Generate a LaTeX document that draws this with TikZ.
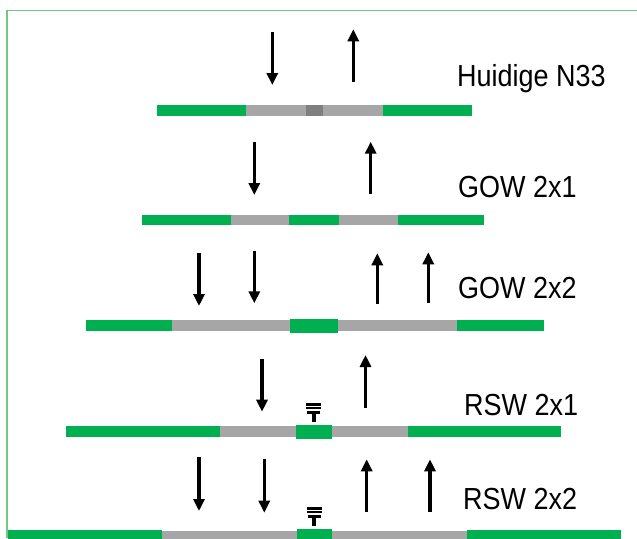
\documentclass[tikz,border=0pt]{standalone}
\usepackage{fontspec}
\setmainfont{Liberation Sans}
\usetikzlibrary{arrows.meta}

\definecolor{roadgreen}{HTML}{00B050}
\definecolor{roadgrey}{HTML}{A6A6A6}
\definecolor{roaddark}{HTML}{7F7F7F}
\definecolor{framegreen}{RGB}{112,200,132}

\tikzset{
  flow/.style={line width=3.2pt, -{Triangle[width=11pt,length=12pt]}, black},
  lanetext/.style={anchor=base west, inner sep=0pt, xscale=0.93, yscale=1.05, transform shape,
                font=\fontsize{29}{34}\selectfont},
  % vehicle barrier on the median: two rails over a post
  barrier/.pic={
    \fill[black] (-7.2,-22.6) rectangle (7.2,-20.3);
    \fill[black] (-7.2,-19.1) rectangle (7.2,-16.8);
    \fill[black] (-6.2,-14.6) rectangle (6.2,-11.6);
    \fill[black] (-2,-11.6) rectangle (2,-4.4);
  }
}

% one road segment: colour, x from, x to, y top, y bottom
\newcommand{\seg}[5]{\fill[#1] (#2,#4) rectangle (#3,#5);}

\begin{document}
\begin{tikzpicture}[x=1pt,y=-1pt]
\useasboundingbox (0,0) rectangle (637,538);

% frame
\draw[framegreen, line width=1.8pt] (7,538) -- (7,10.5) -- (637,10.5);

% Huidige N33
\seg{roadgreen}{157}{246}{105}{115.5}
\seg{roadgrey}{246}{306}{105}{115.5}
\seg{roaddark}{306}{322.7}{105}{115.5}
\seg{roadgrey}{322.7}{383}{105}{115.5}
\seg{roadgreen}{383}{471.5}{105}{115.5}
\coordinate (a1s) at (272.3,31.7);  \coordinate (a1e) at (272.3,85);
\coordinate (b1s) at (353.3,81.7);  \coordinate (b1e) at (353.3,29.3);
\draw[flow] (a1s) -- (a1e);
\draw[flow] (b1s) -- (b1e);
\node[lanetext] (l1) at (457,86) {Huidige N33};

% GOW 2x1
\seg{roadgreen}{142.3}{230.7}{215}{225.3}
\seg{roadgrey}{230.7}{289.3}{215}{225.3}
\seg{roadgreen}{289.3}{338.7}{215}{225.3}
\seg{roadgrey}{338.7}{397.7}{215}{225.3}
\seg{roadgreen}{397.7}{484}{215}{225.3}
\coordinate (a2s) at (254.3,141.7); \coordinate (a2e) at (254.3,195);
\coordinate (b2s) at (370.7,194.3); \coordinate (b2e) at (370.7,141.7);
\draw[flow] (a2s) -- (a2e);
\draw[flow] (b2s) -- (b2e);
\node[lanetext] (l2) at (458,197) {GOW 2x1};

% GOW 2x2
\seg{roadgreen}{86}{172}{320}{330.7}
\seg{roadgrey}{172}{290}{320}{330.7}
\seg{roadgreen}{290}{338.3}{319}{332.7}
\seg{roadgrey}{338.3}{456.7}{320}{330.7}
\seg{roadgreen}{456.7}{544.3}{320}{330.7}
\coordinate (a3s) at (199,252.7);   \coordinate (a3e) at (199,306);
\coordinate (c3s) at (254.3,250.7); \coordinate (c3e) at (254.3,303.3);
\coordinate (b3s) at (377.3,304.3); \coordinate (b3e) at (377.3,253.3);
\coordinate (d3s) at (428.3,303.3); \coordinate (d3e) at (428.3,252.3);
\draw[flow] (a3s) -- (a3e);
\draw[flow] (c3s) -- (c3e);
\draw[flow] (b3s) -- (b3e);
\draw[flow] (d3s) -- (d3e);
\node[lanetext] (l3) at (458,298) {GOW 2x2};

% RSW 2x1
\seg{roadgreen}{65.9}{219.6}{426}{437}
\seg{roadgrey}{219.6}{296}{426}{437}
\seg{roadgreen}{296}{332}{425}{438.7}
\seg{roadgrey}{332}{408}{426}{437}
\seg{roadgreen}{408}{561}{426}{437}
\coordinate (a4s) at (262,359);     \coordinate (a4e) at (262,411.7);
\coordinate (b4s) at (365.5,408.3); \coordinate (b4e) at (365.5,355);
\draw[flow] (a4s) -- (a4e);
\draw[flow] (b4s) -- (b4e);
\pic at (313.5,426) {barrier};
\node[lanetext] (l4) at (464,415) {RSW 2x1};

% RSW 2x2
\seg{roadgreen}{8}{162}{530}{540}
\seg{roadgrey}{162}{297}{530.7}{540}
\seg{roadgreen}{297}{332}{529.3}{540}
\seg{roadgrey}{332}{467}{530.7}{540}
\seg{roadgreen}{467}{621}{530}{540}
\coordinate (a5s) at (199,457.3);   \coordinate (a5e) at (199,511);
\coordinate (c5s) at (264.3,459.3); \coordinate (c5e) at (264.3,512.7);
\coordinate (b5s) at (366.7,512.3); \coordinate (b5e) at (366.7,459.3);
\coordinate (d5s) at (430,512.3);   \coordinate (d5e) at (430,459.3);
\draw[flow] (a5s) -- (a5e);
\draw[flow] (c5s) -- (c5e);
\draw[flow] (b5s) -- (b5e);
\draw[flow] (d5s) -- (d5e);
\pic at (314.3,530) {barrier};
\node[lanetext] (l5) at (463,509) {RSW 2x2};
\end{tikzpicture}
\end{document}
